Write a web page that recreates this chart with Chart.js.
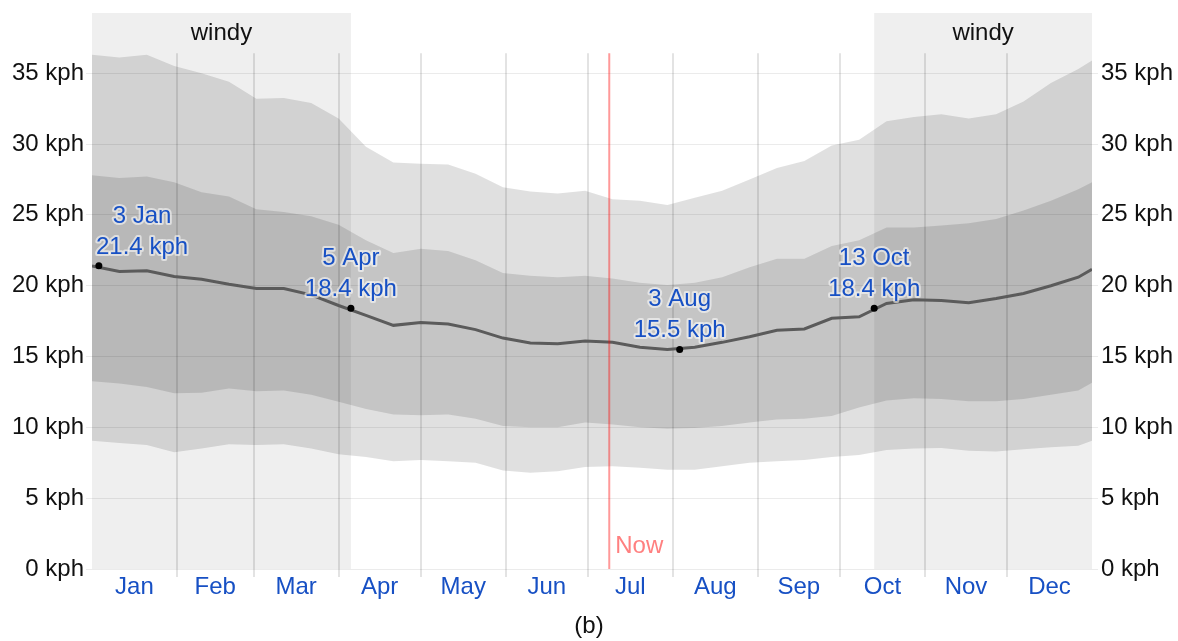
<!DOCTYPE html>
<html>
<head>
<meta charset="utf-8">
<script src="https://cdn.jsdelivr.net/npm/chart.js@4.4.1/dist/chart.umd.min.js"></script>
<style>
  html, body { margin: 0; padding: 0; background: #fff; }
  #wrap { width: 1178px; height: 641px; position: relative; }
</style>
</head>
<body>
<div id="wrap"><canvas id="windChart"></canvas></div>
<script>
/*
  Average wind speed band chart (b)
  bands: 10th-90th and 25th-75th percentile, line = median
*/

// day of year (0 = 1 Jan)
const days = [0, 10, 20, 30, 40, 50, 60, 70, 80, 90, 100, 110, 120, 130, 140, 150, 160, 170, 180,
  190, 200, 210, 220, 230, 240, 250, 260, 270, 280, 290, 300, 310, 320, 330, 340, 350, 360, 365];

const p90 = [36.3, 36.1, 36.3, 35.5, 35.0, 34.4, 33.2, 33.25, 32.9, 31.8, 29.8, 28.7, 28.6, 28.55, 27.9, 26.95, 26.65, 26.5, 26.7,
  26.1, 26.0, 25.7, 26.2, 26.7, 27.5, 28.3, 28.8, 29.9, 30.3, 31.6, 31.9, 32.1, 31.8, 32.1, 33.0, 34.3, 35.3, 35.9];

const p75 = [27.8, 27.6, 27.7, 27.3, 26.6, 26.3, 25.4, 25.2, 24.9, 24.3, 23.2, 22.3, 22.6, 22.45, 21.8, 20.9, 20.7, 20.6, 20.7,
  20.5, 20.2, 20.05, 20.2, 20.6, 21.3, 21.9, 21.9, 22.8, 23.2, 24.1, 24.1, 24.25, 24.4, 24.7, 25.3, 26.0, 26.8, 27.3];

const p50 = [21.4, 21.0, 21.05, 20.65, 20.45, 20.1, 19.8, 19.8, 19.35, 18.6, 17.9, 17.2, 17.4, 17.3, 16.9, 16.3, 15.95, 15.9, 16.1,
  16.0, 15.65, 15.5, 15.65, 16.0, 16.4, 16.85, 16.95, 17.7, 17.8, 18.75, 19.0, 18.95, 18.8, 19.1, 19.45, 20.0, 20.6, 21.15];

const p25 = [13.25, 13.1, 12.85, 12.4, 12.45, 12.75, 12.55, 12.6, 12.3, 11.8, 11.3, 10.9, 10.85, 10.9, 10.6, 10.1, 10.0, 10.0, 10.35,
  10.2, 10.0, 9.9, 9.95, 10.1, 10.35, 10.55, 10.6, 10.8, 11.4, 11.9, 12.05, 12.0, 11.85, 11.85, 12.0, 12.3, 12.6, 13.15];

const p10 = [9.05, 8.9, 8.75, 8.25, 8.5, 8.8, 8.75, 8.8, 8.5, 8.1, 7.9, 7.6, 7.7, 7.6, 7.5, 6.95, 6.8, 6.9, 7.2,
  7.25, 7.15, 7.0, 7.0, 7.25, 7.5, 7.6, 7.7, 7.9, 8.05, 8.4, 8.5, 8.55, 8.35, 8.3, 8.45, 8.6, 8.7, 9.05];

const monthNames = ["Jan", "Feb", "Mar", "Apr", "May", "Jun", "Jul", "Aug", "Sep", "Oct", "Nov", "Dec"];
const monthStarts = [0, 31, 59, 90, 120, 151, 181, 212, 243, 273, 304, 334, 365];

const yTickValues = [0, 5, 10, 15, 20, 25, 30, 35];

// windy season(s)
const windyFrom = [0, 285.5];
const windyTo = [94.5, 365];
const windyLabel = "windy";

// highlighted points
const annDays = [2.5, 94.5, 214.5, 285.5];
const annValues = [21.4, 18.4, 15.5, 18.4];
const annDates = ["3 Jan", "5 Apr", "3 Aug", "13 Oct"];

const nowDay = 188.8;
const nowLabel = "Now";
const caption = "(b)";

const FONT = "'Liberation Sans', Arial, sans-serif";
const BLUE = "#1750c4";

Chart.defaults.font.family = FONT;
Chart.defaults.font.size = 24;

const monthMids = monthNames.map((m, i) => (monthStarts[i] + monthStarts[i + 1]) / 2);

function toXY(arr) {
  return arr.map((v, i) => ({ x: days[i], y: v }));
}

// y axes: fixed width, no extra top/bottom label padding
function fitY(width) {
  return s => {
    s.width = width;
    s.paddingTop = 0;
    s.paddingBottom = 0;
  };
}

const decor = {
  id: "decor",
  beforeDraw(chart) {
    const { ctx, chartArea } = chart;
    const x = chart.scales.x;
    ctx.save();
    ctx.fillStyle = "#efefef";
    windyFrom.forEach((d, i) => {
      const x0 = x.getPixelForValue(d);
      const x1 = x.getPixelForValue(windyTo[i]);
      ctx.fillRect(x0, chartArea.top, x1 - x0, chartArea.bottom - chartArea.top);
    });
    ctx.fillStyle = "#111";
    ctx.font = "24px " + FONT;
    ctx.textAlign = "center";
    ctx.textBaseline = "alphabetic";
    windyFrom.forEach((d, i) => {
      const xc = (x.getPixelForValue(d) + x.getPixelForValue(windyTo[i])) / 2;
      ctx.fillText(windyLabel, xc, chartArea.top + 27);
    });
    ctx.restore();
  },
  beforeDatasetsDraw(chart) {
    const { ctx, chartArea } = chart;
    const x = chart.scales.x, y = chart.scales.y;
    const top = y.getPixelForValue(36.4);
    ctx.save();
    ctx.strokeStyle = "rgba(0,0,0,0.15)";
    ctx.lineWidth = 1.5;
    monthStarts.slice(1, -1).forEach(d => {
      const px = Math.round(x.getPixelForValue(d));
      ctx.beginPath();
      ctx.moveTo(px, top);
      ctx.lineTo(px, chartArea.bottom + 8);
      ctx.stroke();
    });
    ctx.restore();
  },
  afterDraw(chart) {
    const { ctx, chartArea } = chart;
    const x = chart.scales.x, y = chart.scales.y;

    // now line
    const nx = x.getPixelForValue(nowDay);
    ctx.save();
    ctx.strokeStyle = "rgba(255,0,0,0.4)";
    ctx.lineWidth = 2;
    ctx.beginPath();
    ctx.moveTo(nx, y.getPixelForValue(36.4));
    ctx.lineTo(nx, chartArea.bottom);
    ctx.stroke();
    ctx.fillStyle = "#ff8080";
    ctx.font = "24px " + FONT;
    ctx.textAlign = "left";
    ctx.textBaseline = "alphabetic";
    ctx.fillText(nowLabel, nx + 6, chartArea.bottom - 16);

    // point labels
    const meta = chart.getDatasetMeta(5);
    ctx.textAlign = "center";
    ctx.lineJoin = "round";
    meta.data.forEach((pt, i) => {
      const l1 = annDates[i];
      const l2 = annValues[i].toFixed(1) + " kph";
      const half = Math.max(ctx.measureText(l1).width, ctx.measureText(l2).width) / 2;
      let cx = pt.x;
      cx = Math.max(cx, chartArea.left + 4 + half);
      cx = Math.min(cx, chartArea.right - 4 - half);
      [[l1, pt.y - 43], [l2, pt.y - 12]].forEach(([t, ty]) => {
        ctx.strokeStyle = "rgba(255,255,255,0.55)";
        ctx.lineWidth = 4;
        ctx.strokeText(t, cx, ty);
        ctx.fillStyle = BLUE;
        ctx.fillText(t, cx, ty);
      });
    });
    ctx.restore();
  }
};

const ctx = document.getElementById("windChart");

new Chart(ctx, {
  type: "line",
  data: {
    datasets: [
      {
        label: "90th percentile",
        data: toXY(p90),
        fill: 4,
        backgroundColor: "rgba(0,0,0,0.12)",
        borderColor: "transparent",
        borderWidth: 0,
        pointRadius: 0,
        order: 3
      },
      {
        label: "75th percentile",
        data: toXY(p75),
        fill: 3,
        backgroundColor: "rgba(0,0,0,0.12)",
        borderColor: "transparent",
        borderWidth: 0,
        pointRadius: 0,
        order: 2
      },
      {
        label: "median",
        data: toXY(p50),
        fill: false,
        borderColor: "#5b5b5b",
        borderWidth: 3,
        pointRadius: 0,
        order: 1
      },
      {
        label: "25th percentile",
        data: toXY(p25),
        fill: false,
        borderColor: "transparent",
        borderWidth: 0,
        pointRadius: 0,
        order: 4
      },
      {
        label: "10th percentile",
        data: toXY(p10),
        fill: false,
        borderColor: "transparent",
        borderWidth: 0,
        pointRadius: 0,
        order: 5
      },
      {
        label: "highlights",
        data: annDays.map((d, i) => ({ x: d, y: annValues[i] })),
        showLine: false,
        pointRadius: 3.5,
        pointBackgroundColor: "#000",
        pointBorderWidth: 0,
        order: 0
      }
    ]
  },
  options: {
    responsive: true,
    maintainAspectRatio: false,
    animation: false,
    devicePixelRatio: 1,
    layout: { autoPadding: false, padding: { top: 13, left: 0, right: 0, bottom: 0 } },
    plugins: {
      legend: { display: false },
      tooltip: { enabled: false },
      filler: { drawTime: "beforeDatasetsDraw" },
      title: {
        display: true,
        position: "bottom",
        text: caption,
        color: "#111",
        font: { size: 24, weight: "normal" },
        padding: 0
      }
    },
    scales: {
      x: {
        type: "linear",
        min: 0,
        max: 365,
        grid: { display: false, drawTicks: false },
        border: { display: false },
        afterBuildTicks: s => { s.ticks = monthMids.map(v => ({ value: v })); },
        afterFit: s => { s.height = 43.2; },
        ticks: {
          color: BLUE,
          padding: 4,
          autoSkip: false,
          maxRotation: 0,
          callback: (v, i) => monthNames[i]
        }
      },
      y: {
        position: "left",
        min: 0,
        max: 39.25,
        z: 1,
        border: { display: false },
        grid: { color: "rgba(0,0,0,0.08)", tickLength: 6 },
        afterBuildTicks: s => { s.ticks = yTickValues.map(v => ({ value: v })); },
        afterFit: fitY(92),
        ticks: { color: "#111", padding: 2, callback: v => v + " kph" }
      },
      y2: {
        position: "right",
        min: 0,
        max: 39.25,
        z: 1,
        border: { display: false },
        grid: { drawOnChartArea: false, color: "rgba(0,0,0,0.08)", tickLength: 6 },
        afterBuildTicks: s => { s.ticks = yTickValues.map(v => ({ value: v })); },
        afterFit: fitY(86),
        ticks: { color: "#111", padding: 3, callback: v => v + " kph" }
      }
    }
  },
  plugins: [decor]
});
</script>
</body>
</html>
